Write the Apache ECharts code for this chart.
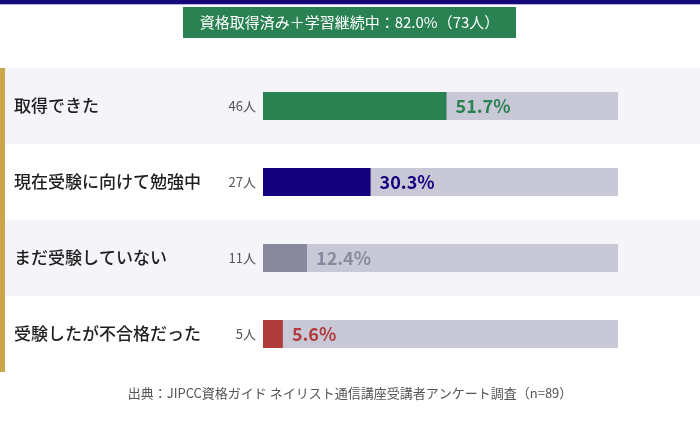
<!DOCTYPE html>
<html><head><meta charset="utf-8">
<script src="https://cdn.jsdelivr.net/npm/echarts@6/dist/echarts.min.js"></script>
<style>html,body{margin:0;padding:0;background:#fff}#c{width:700px;height:422px}</style>
</head><body><div id="c"></div>
<script>
const categories = ['取得できた', '現在受験に向けて勉強中', 'まだ受験していない', '受験したが不合格だった'];
const counts = [46, 27, 11, 5];
const percents = [51.7, 30.3, 12.4, 5.6];
const trackMax = 100;
const headline = '資格取得済み＋学習継続中：82.0%（73人）';
const source = '出典：JIPCC資格ガイド ネイリスト通信講座受講者アンケート調査（n=89）';

const barColors = ['#2a8152', '#14007f', '#8a8a9e', '#b03c3c'];
const FONT = '"Noto Sans CJK JP", "Noto Sans", sans-serif';

const chart = echarts.init(document.getElementById('c'), null, {renderer: 'canvas'});
chart.setOption({
  animation: false,
  textStyle: {fontFamily: FONT},
  grid: [
    {left: 263, right: 82, top: 68, bottom: 50, containLabel: false},
    {left: 5, right: 0, top: 68, bottom: 50, containLabel: false}
  ],
  xAxis: [
    {gridIndex: 0, type: 'value', min: 0, max: trackMax, show: false},
    {gridIndex: 1, type: 'value', min: 0, max: 1, show: false}
  ],
  yAxis: [
    {gridIndex: 0, type: 'category', data: categories, inverse: true,
     axisLine: {show: false}, axisTick: {show: false},
     axisLabel: {align: 'left', margin: 249, color: '#1e1e1e', fontSize: 17, fontWeight: 500, fontFamily: FONT}},
    {gridIndex: 0, type: 'category', data: counts.map(c => c + '人'), inverse: true, position: 'left',
     axisLine: {show: false}, axisTick: {show: false},
     axisLabel: {margin: 7, color: '#555', fontSize: 13, fontFamily: FONT}},
    {gridIndex: 1, type: 'category', data: categories, inverse: true, z: 0,
     axisLine: {show: false}, axisTick: {show: false}, axisLabel: {show: false},
     splitArea: {show: true, areaStyle: {color: ['#f4f4f9', '#ffffff']}}}
  ],
  series: [
    {type: 'bar', xAxisIndex: 0, yAxisIndex: 0, data: categories.map(() => trackMax),
     barWidth: 28, barGap: '-100%', silent: true, z: 2,
     itemStyle: {color: '#c9c8d6'}},
    {type: 'bar', xAxisIndex: 0, yAxisIndex: 0, barWidth: 28, z: 3,
     data: percents.map((v, i) => ({
       value: v,
       itemStyle: {color: barColors[i]},
       label: {color: barColors[i]}
     })),
     label: {show: true, position: 'right', distance: 9, fontSize: 18, fontWeight: 'bold',
       fontFamily: FONT, formatter: p => p.value.toFixed(1) + '%'}}
  ],
  graphic: [
    {type: 'rect', shape: {x: 0, y: 0, width: 700, height: 4}, style: {fill: '#14087a'}},
    {type: 'rect', shape: {x: 0, y: 4, width: 700, height: 1}, style: {fill: '#b4b2d6'}},
    {type: 'rect', shape: {x: 0, y: 68, width: 5, height: 304}, style: {fill: '#c9a84c'}, z: 10},
    {type: 'rect', shape: {x: 183, y: 7, width: 333, height: 31}, style: {fill: '#2a8152'}},
    {type: 'text', x: 349.5, y: 22.5, style: {text: headline, fill: '#fff', fontSize: 15,
      fontFamily: FONT, textAlign: 'center', textVerticalAlign: 'middle'}},
    {type: 'text', x: 350, y: 393, style: {text: source, fill: '#555', fontSize: 13,
      fontFamily: FONT, textAlign: 'center', textVerticalAlign: 'middle'}}
  ]
});
</script></body></html>
